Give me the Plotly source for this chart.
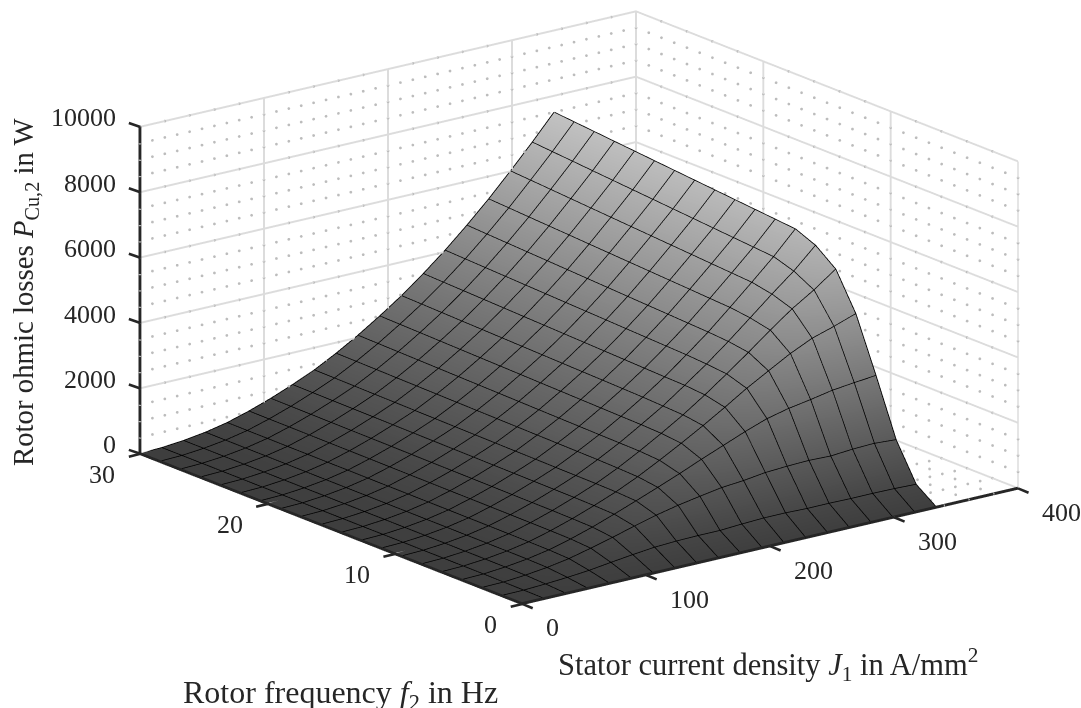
import numpy as np
import plotly.graph_objects as go

J_grid = [0, 17.58, 35.16, 52.74, 70.32, 87.89, 105.47, 123.05, 140.63, 158.21,
          175.79, 193.37, 210.95, 228.53, 246.11, 263.68, 281.26, 298.84, 316.42, 334]
f_grid = [0, 1.58, 3.16, 4.74, 6.32, 7.89, 9.47, 11.05, 12.63, 14.21,
          15.79, 17.37, 18.95, 20.53, 22.11, 23.68, 25.26, 26.84, 28.42, 30]

P_J00 = [0]*20
P_J01 = [0,6,12,17,19,19,19,20,20,20,20,20,20,20,20,21,21,21,21,21]
P_J02 = [0,40,68,75,76,77,78,78,79,79,80,80,81,81,81,82,82,82,83,83]
P_J03 = [0,84,148,162,166,167,168,169,170,171,172,173,174,175,176,177,178,178,179,180]
P_J04 = [0,144,262,288,294,298,299,301,303,304,306,307,309,311,312,314,315,317,318,320]
P_J05 = [0,233,425,466,477,482,484,487,490,492,495,497,500,503,505,508,510,513,515,518]
P_J06 = [0,315,600,675,690,698,701,705,709,713,716,720,724,728,731,735,739,743,746,750]
P_J07 = [0,386,792,914,935,945,950,955,960,965,970,975,980,986,991,996,1001,1006,1011,1016]
P_J08 = [0,419,969,1166,1199,1212,1218,1225,1232,1239,1246,1253,1260,1268,1275,1282,1289,1296,1303,1310]
P_J09 = [0,433,1116,1424,1507,1532,1548,1557,1566,1575,1584,1593,1602,1611,1620,1629,1638,1647,1656,1665]
P_J10 = [0,433,1236,1689,1854,1895,1906,1916,1928,1940,1952,1964,1976,1988,2000,2012,2024,2036,2048,2060]
P_J11 = [0,474,1347,1971,2221,2283,2308,2320,2335,2349,2364,2378,2393,2408,2422,2437,2451,2466,2480,2495]
P_J12 = [0,503,1406,2238,2605,2694,2723,2753,2770,2788,2805,2822,2839,2857,2874,2891,2908,2926,2943,2960]
P_J13 = [0,505,1496,2506,3010,3149,3202,3219,3241,3263,3284,3306,3328,3350,3371,3393,3415,3437,3458,3480]
P_J14 = [0,485,1535,2747,3434,3636,3697,3737,3762,3787,3812,3838,3863,3888,3914,3939,3964,3990,4015,4040]
P_J15 = [0,488,1558,2906,3813,4139,4232,4278,4309,4340,4371,4402,4433,4464,4495,4526,4557,4588,4619,4650]
P_J16 = [0,477,1537,3021,4187,4664,4797,4876,4911,4947,4982,5017,5053,5088,5123,5159,5194,5229,5265,5300]
P_J17 = [0,480,1590,3150,4500,5160,5370,5490,5533,5575,5618,5660,5703,5745,5788,5830,5873,5915,5958,6000]
P_J18 = [0,471,1614,3228,4708,5582,5918,6120,6170,6221,6271,6322,6372,6423,6473,6523,6574,6624,6675,6725]
P_J19 = [0,449,1572,3295,4942,6065,6552,6814,6870,6926,6982,7039,7095,7151,7207,7263,7319,7376,7432,7488]

J_ticks = [0, 100, 200, 300, 400]
f_ticks = [0, 10, 20, 30]
P_ticks = [0, 2000, 4000, 6000, 8000, 10000]
J_minor = [v for v in range(20, 400, 20) if v % 100]
f_minor = [v for v in range(2, 30, 2) if v % 10]
P_minor = [v for v in range(500, 10000, 500) if v % 2000]

rows_by_J = [P_J00, P_J01, P_J02, P_J03, P_J04, P_J05, P_J06, P_J07, P_J08, P_J09,
             P_J10, P_J11, P_J12, P_J13, P_J14, P_J15, P_J16, P_J17, P_J18, P_J19]
Z = np.array(rows_by_J).T

fig = go.Figure()
fig.add_trace(go.Surface(
    x=J_grid, y=f_grid, z=Z, cmin=0, cmax=7488, showscale=False, hoverinfo="skip",
    colorscale=[[0, "#3e3e3e"], [1, "#c2c2c2"]],
    lighting=dict(ambient=1, diffuse=0, specular=0, roughness=1, fresnel=0),
))

# black mesh lines, drawn from the same data as the surface
mesh_x, mesh_y, mesh_z = [], [], []
for i, J in enumerate(J_grid):
    mesh_x += [J] * len(f_grid) + [None]
    mesh_y += f_grid + [None]
    mesh_z += list(rows_by_J[i]) + [None]
for j, f in enumerate(f_grid):
    mesh_x += J_grid + [None]
    mesh_y += [f] * len(J_grid) + [None]
    mesh_z += [r[j] for r in rows_by_J] + [None]
fig.add_trace(go.Scatter3d(x=mesh_x, y=mesh_y, z=mesh_z, mode="lines", hoverinfo="skip", showlegend=False,
                           connectgaps=False, line=dict(color="#000000", width=3)))

# dotted minor grid on the back walls and the uncovered strip of the floor
dot_x, dot_y, dot_z = [], [], []
def dotted(x0, x1, y0, y1, z0, z1, n):
    dot_x.extend(np.linspace(x0, x1, n).tolist())
    dot_y.extend(np.linspace(y0, y1, n).tolist())
    dot_z.extend(np.linspace(z0, z1, n).tolist())

for v in J_minor:
    dotted(v, v, 30, 30, 0, 10000, 21)
    if v > max(J_grid):
        dotted(v, v, 0, 30, 0, 0, 31)
for v in f_minor:
    dotted(400, 400, v, v, 0, 10000, 21)
    dotted(max(J_grid) + 6, 400, v, v, 0, 0, 7)
for v in P_minor:
    dotted(0, 400, 30, 30, v, v, 41)
    dotted(400, 400, 0, 30, v, v, 31)
fig.add_trace(go.Scatter3d(x=dot_x, y=dot_y, z=dot_z, mode="markers", hoverinfo="skip", showlegend=False,
                           marker=dict(color="#bcbcbc", size=1.6, line=dict(width=0))))

# right-hand vertical edge of the back wall (the f = 0 gridline on the J = 400 wall)
fig.add_trace(go.Scatter3d(x=[max(J_ticks), max(J_ticks)], y=[min(f_ticks), min(f_ticks)],
                           z=[min(P_ticks), max(P_ticks)], mode="lines", hoverinfo="skip", showlegend=False,
                           line=dict(color="#dcdcdc", width=3)))

TEXT = "#262626"
axis_common = dict(
    showbackground=False, showspikes=False, showgrid=True, gridcolor="#dcdcdc", gridwidth=4,
    zeroline=False, showline=True, linecolor=TEXT, linewidth=6, showticklabels=False,
    ticks="", title=dict(text=""),
)
tick_font = dict(family="Liberation Serif", size=26, color=TEXT)

def tick_note(x, y, z, text, anchor, dx, dy):
    return dict(x=x, y=y, z=z, text=text, showarrow=False, xanchor=anchor, yanchor="middle",
                xshift=dx, yshift=dy, font=tick_font)

def tick_mark(x, y, z, ax, ay):
    return dict(x=x, y=y, z=z, text=" ", showarrow=True, arrowhead=0, arrowwidth=2.6, arrowcolor=TEXT,
                ax=ax, ay=ay, standoff=0, font=dict(size=1))

scene_notes = (
    [tick_note(v, 0, 0, str(v), "left", 22, -24) for v in J_ticks]
    + [tick_note(0, v, 0, str(v), "right", -23, -20.5) for v in f_ticks]
    + [tick_note(0, 30, v, str(v), "right", -22.5, 9) for v in P_ticks]
    + [tick_mark(v, 0, 0, 12, 5) for v in J_ticks]
    + [tick_mark(0, v, 0, -13, 3.3) for v in f_ticks]
    + [tick_mark(0, 30, v, -13, -4.5) for v in P_ticks]
)

def title_note(text, x, y, size, angle=0):
    return dict(text=text, x=x/1081, y=1-y/708, textangle=angle, xanchor="center", yanchor="middle",
                xref="paper", yref="paper", showarrow=False,
                font=dict(family="Liberation Serif", size=size, color=TEXT))

fig.update_layout(
    width=1081, height=708, paper_bgcolor="white", margin=dict(l=0, r=0, t=0, b=0), showlegend=False,
    scene=dict(
        domain=dict(x=[0.0716, 1], y=[0.131, 1]),
        aspectmode="manual", aspectratio=dict(x=2.036, y=2.036, z=1.115),
        camera=dict(projection=dict(type="orthographic"),
                    eye=dict(x=-1.0, y=-1.2985, z=0.52), up=dict(x=0, y=0, z=1),
                    center=dict(x=0, y=0, z=0)),
        # the zero gridlines would lie on top of the dark axis lines, so they are left out
        xaxis=dict(axis_common, range=[0, 400], tickvals=[v for v in J_ticks if v]),
        yaxis=dict(axis_common, range=[0, 30], tickvals=[v for v in f_ticks if v]),
        zaxis=dict(axis_common, range=[0, 10000], tickvals=P_ticks),
        annotations=scene_notes,
    ),
    annotations=[
        title_note("Rotor ohmic losses <i>P</i><sub>Cu,2</sub> in W", 25, 292, 28.8, -90),
        title_note("Stator current density <i>J</i><sub>1</sub> in A/mm<sup>2</sup>", 768, 664, 30.5),
        title_note("Rotor frequency <i>f</i><sub>2</sub> in Hz", 340, 694, 32),
    ],
)

fig.write_html("out.html", config={"displayModeBar": False},
               post_script="document.body.style.margin='0';")
